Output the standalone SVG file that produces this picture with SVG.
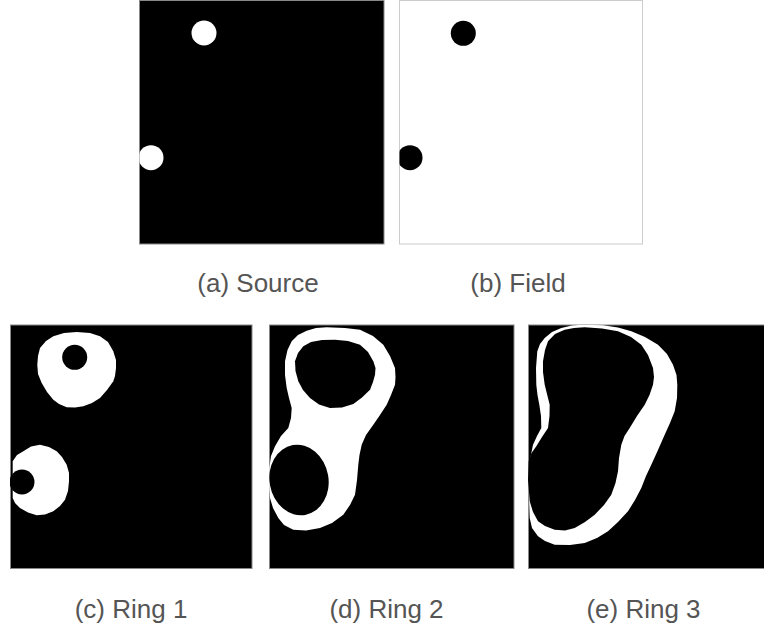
<svg xmlns="http://www.w3.org/2000/svg" width="764" height="627" viewBox="0 0 764 627">
<style>
.bk{fill:#000;stroke:#888;stroke-width:1}
.wh{fill:#fff}
.k{fill:#000}
.lbl{font-family:"Liberation Sans",Arial,sans-serif;font-size:26px;fill:#555;text-anchor:middle}
</style>
<defs>
<clipPath id="cc"><rect x="10" y="325" width="242" height="244"/></clipPath>
<clipPath id="cd"><rect x="269" y="325" width="245" height="244"/></clipPath>
<clipPath id="ce"><rect x="528" y="325" width="236" height="244"/></clipPath>
<clipPath id="ca"><rect x="139.5" y="0" width="245" height="244"/></clipPath>
<clipPath id="cb"><rect x="399.5" y="0" width="243" height="244"/></clipPath>
</defs>
<rect width="764" height="627" fill="#fff"/>

<g id="panel-a">
<rect class="bk" x="139.5" y="0.5" width="244.5" height="243.5"/>
<g clip-path="url(#ca)">
<circle class="wh" cx="204" cy="33" r="12.5"/>
<circle class="wh" cx="151" cy="157.7" r="12.5"/>
</g>
</g>

<g id="panel-b">
<rect x="399.5" y="0.5" width="243" height="243.5" fill="#fff" stroke="#ccc" stroke-width="1"/>
<g clip-path="url(#cb)">
<circle class="k" cx="463.3" cy="33.3" r="12.5"/>
<circle class="k" cx="410" cy="157.7" r="12.5"/>
</g>
</g>

<g id="panel-c">
<rect class="bk" x="10.5" y="325" width="241.5" height="243.5"/>
<g clip-path="url(#cc)">
<polygon class="wh" points="76.7,332 90,333 100,336.3 108,342 113.3,351.3 116,360 116,368 115,376 113.3,381.3 107,390 100,398 92,403 83.3,406.3 75,407.5 66.7,407.3 59,404 53.3,399.7 47,392 41.7,383 38,374 37.3,364.7 38,356 40,348 46,341 53.3,336.3 64,333"/>
<circle class="k" cx="74.7" cy="357.3" r="12.5"/>
<polygon class="wh" points="40,444.7 49,447 56.7,451.3 62,457 66.7,464.7 69,473 69,481.3 68,491 65,499.7 60,506 53.3,511.3 45,514.5 36.7,515.3 28,512.5 20,508 15,503 12.7,498 12.7,461.3 17,455 23.3,451.3 31,446.5"/>
<circle class="k" cx="22" cy="482" r="12.5"/>
</g>
</g>

<g id="panel-d">
<rect class="bk" x="269.5" y="325" width="244.5" height="243.5"/>
<g clip-path="url(#cd)">
<polygon class="wh" points="326.7,327.3 345,328 360,329.7 373,336 383.3,344.7 390,356 395,368 395.5,377 395,384.7 391,395 386.7,404.7 380,415 373.3,424.7 366,435 361.7,444.7 359.5,455 358.3,464.7 357,480 355,494.7 350,505 343.3,514.7 332,523 320,528 306,530.5 293.3,529.7 284,525 278.3,518 273,508 270,498 269,483 269.3,468 271,456 275,446.3 281,436 288.3,428 291,418 291.7,408 289,398 286.7,388 285,375 285,361.3 287.5,350 291.7,341.3 298,335 306.7,330.7 316,328"/>
<polygon class="k" points="335,339.7 348,341 360,344.7 368,352 373.3,361.3 375.5,368 375,374.7 373,382 370,389.7 362,397.5 353.3,404 342,407.5 330,408 319,404.5 310,398 303,390 298.3,381.3 295.5,371 295,361.3 298,353 303.3,346.3 311,342 322,340"/>
<ellipse class="k" cx="299" cy="480" rx="29.5" ry="35.5" transform="rotate(-10 299 480)"/>
</g>
</g>

<g id="panel-e">
<rect class="bk" x="528.5" y="325" width="236" height="243.5"/>
<g clip-path="url(#ce)">
<polygon class="wh" points="583,324.7 603,325.3 618,327.5 631.3,331.3 645,337 658,344.7 667,354 673,364.7 676.5,375 677.3,384.7 677,398 674.7,411.3 670,423 664.7,434.7 658,450 651.3,464.7 646,476 641.3,488 635,500 628,511.3 618,522 608,531.3 597,538 584.7,543 570,545 554.7,544.7 545,541 538,536.3 532,528 529.7,518 529,498 528.5,480 529.7,461.3 533,444.7 537,436 541.3,428 541,416 539.3,404.7 537.5,395 536.3,384.7 536,368 537.3,351.3 540,344 544.7,338 552,332 561.3,328 572,325.5"/>
<polygon class="k" points="584.7,327.3 602,328.5 618,331.3 631,337 641.3,344.7 648,355 653,368 654,377 653,384.7 649.5,395 644.7,404.7 637,416 629.7,428 624.5,436 621.3,444.7 619,458 618,471.3 615.5,483 611.3,494.7 604,505 594.7,514.7 585,522 574.7,528 565,530.5 554.7,529.7 545,526 538,521.3 533,512 529.7,501.3 528,480 528.7,461.3 531.5,453 536.3,446.3 542,437 548,428 549.5,416 549.7,404.7 547,394 544.7,384.7 543,372 543,361.3 545,350 548,341.3 555,334 564.7,329.7 574,328"/>
</g>
</g>

<g id="labels">
<text class="lbl" x="258" y="292">(a) Source</text>
<text class="lbl" x="518" y="292">(b) Field</text>
<text class="lbl" x="131" y="618">(c) Ring 1</text>
<text class="lbl" x="386.5" y="618">(d) Ring 2</text>
<text class="lbl" x="643.5" y="618">(e) Ring 3</text>
</g>
</svg>
